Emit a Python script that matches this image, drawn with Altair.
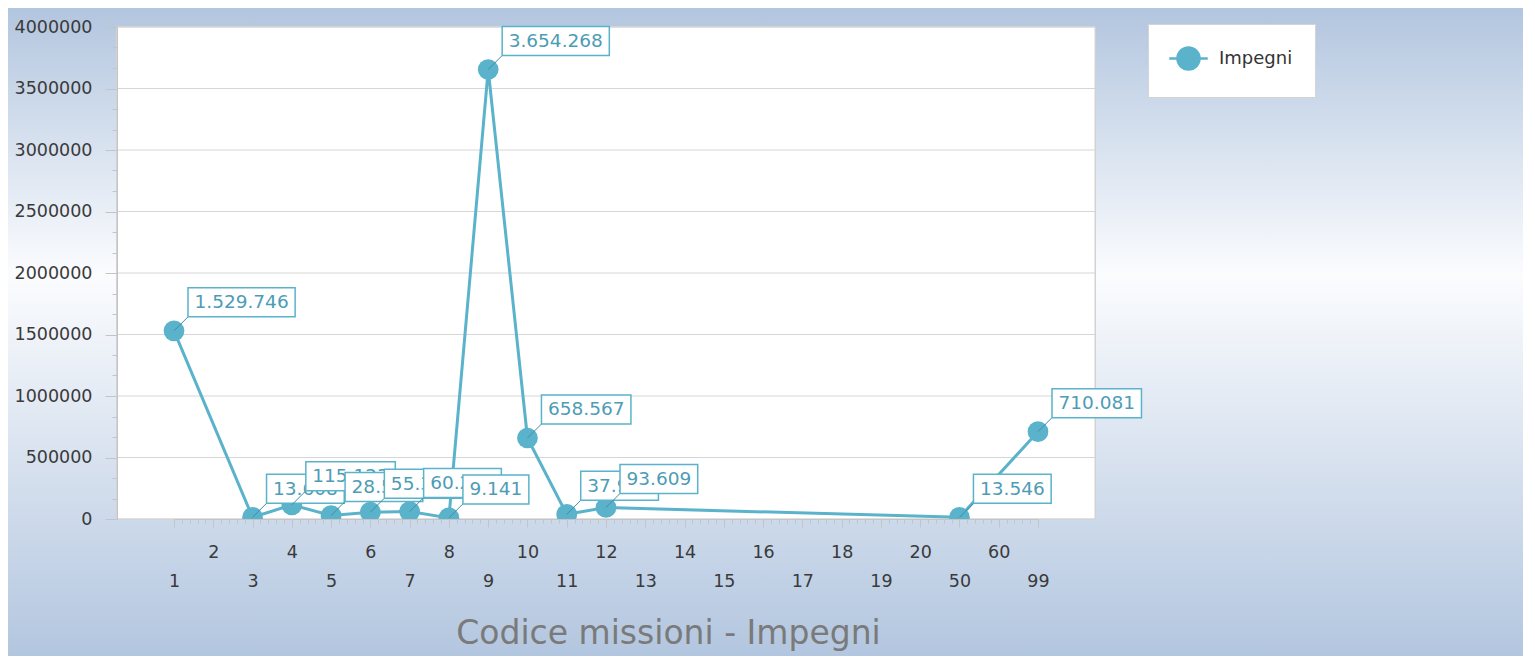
import altair as alt
import pandas as pd

# ---- data ----
categories = [str(i) for i in range(1, 21)] + ["50", "60", "99"]
codes = ["1", "3", "4", "5", "6", "7", "8", "9", "10", "11", "12", "50", "99"]
values = [1529746, 13608, 115123, 28512, 55312, 60213, 9141, 3654268, 658567, 37912, 93609, 13546, 710081]
y_ticks = [0, 500000, 1000000, 1500000, 2000000, 2500000, 3000000, 3500000, 4000000]
bottom_row = ["1", "3", "5", "7", "9", "11", "13", "15", "17", "19", "50", "99"]
series_name = "Impegni"

labels = [f"{v:,}".replace(",", ".") for v in values]
df = pd.DataFrame({"code": codes, "value": values, "label": labels,
                   "series": [series_name] * len(codes), "i": list(range(len(codes)))})
grid_df = pd.DataFrame({"tick": y_ticks})

# minor (ruler) tick positions for axes
minor_x = [k / 5 for k in range(0, 22 * 5 + 1) if k % 5 != 0]
minor_y = [k * 500000 / 3 for k in range(0, 25) if k % 3 != 0]
minor_df = pd.DataFrame({"mx": [0, 22], "my": [0, 4000000]})

W, H = 978, 492
X0, X1 = 57, 921
TEAL = "#5ab3cb"
LABEL_COL = "#4d9cb6"
FONT = "DejaVu Sans"
AX_COL = "#c4c4c4"

xscale = alt.Scale(domain=categories, type="point", padding=0, range=[X0, X1])
yscale = alt.Scale(domain=[0, 4000000], nice=False)

bottom_test = "indexof([" + ",".join(f"'{c}'" for c in bottom_row) + "], datum.value) >= 0"

x_axis = alt.Axis(
    title="Codice missioni - Impegni", titleFontSize=33, titleColor="#7a7a7a",
    titleFont=FONT, titleFontWeight="normal", titleX=551, titleY=114,
    titleBaseline="middle", titleAnchor="middle", titleAlign="center",
    labelFont=FONT, labelFontSize=17.5, labelColor="#3a3a3a", labelAngle=0,
    labelBaseline="middle", labelOverlap=False, labelFlush=False,
    labelPadding=alt.condition(bottom_test, alt.value(54), alt.value(25)),
    tickSize=8, tickColor=AX_COL, domainColor=AX_COL, grid=False, zindex=1,
)
y_axis = alt.Axis(
    title=None, values=y_ticks, format="d", labelFont=FONT, labelFontSize=17.5,
    labelColor="#3a3a3a", tickSize=12, labelPadding=13, tickColor=AX_COL,
    domainColor=AX_COL, grid=False, zindex=1,
)

base = alt.Chart(df)

bg = alt.Chart(grid_df).mark_rect(
    color=alt.Gradient(
        gradient="linear",
        stops=[alt.GradientStop(color="#b0c4de", offset=0),
               alt.GradientStop(color="#fbfcfe", offset=0.41),
               alt.GradientStop(color="#b0c4de", offset=1)],
        x1=0, x2=0, y1=0, y2=1,
    )
).encode(x=alt.value(-117), x2=alt.value(1418), y=alt.value(-27), y2=alt.value(644))

plot_bg = alt.Chart(grid_df).mark_rect(fill="white", stroke="#d2d2d2", strokeWidth=1).encode(
    x=alt.value(0), x2=alt.value(W), y=alt.value(0), y2=alt.value(H)
)

grid = alt.Chart(grid_df).mark_rule(color="#d6d6d6", strokeWidth=1).encode(
    y=alt.Y("tick:Q", scale=yscale, axis=y_axis)
)

line = base.mark_line(color=TEAL, strokeWidth=3, clip=True).encode(
    x=alt.X("code:N", scale=xscale, sort=categories, axis=x_axis),
    y=alt.Y("value:Q", scale=yscale),
    order="i:Q",
)

points = base.mark_point(filled=True, size=430, opacity=1, clip=True).encode(
    x=alt.X("code:N", scale=xscale, sort=categories),
    y=alt.Y("value:Q", scale=yscale),
    color=alt.Color("series:N", scale=alt.Scale(range=[TEAL]),
                    legend=alt.Legend(title=None, orient="none", legendX=1031, legendY=-3,
                                      fillColor="white", strokeColor="#d4d4d4", padding=22,
                                      symbolOffset=6,
                                      symbolType="M-1,0A1,1 0 1,1 1,0A1,1 0 1,1 -1,0Z M-1.75,0L1.75,0",
                                      symbolSize=484, symbolStrokeColor=TEAL, symbolStrokeWidth=2.5,
                                      symbolFillColor=TEAL, labelFont=FONT, labelFontSize=18,
                                      labelColor="#333333", labelOffset=18)),
)

layers = [bg, plot_bg, grid, line, points]

def text_w(s):
    w = 0
    for ch in s:
        w += 0.318 if ch == "." else 0.636
    return w * 18.5

for k, lab in enumerate(labels):
    sub = base.transform_filter(alt.datum.i == k)
    bw = text_w(lab) + 13
    leader = sub.mark_rule(color="#3f8ea6", strokeWidth=1, x2Offset=14, y2Offset=-14).encode(
        x=alt.X("code:N", scale=xscale, sort=categories), x2="code:N",
        y=alt.Y("value:Q", scale=yscale), y2="value:Q",
    )
    box = sub.mark_rect(fill="white", stroke=TEAL, strokeWidth=1.5,
                        xOffset=14, x2Offset=14 + bw, yOffset=-43, y2Offset=-14).encode(
        x=alt.X("code:N", scale=xscale, sort=categories), x2="code:N",
        y=alt.Y("value:Q", scale=yscale), y2="value:Q",
    )
    txt = sub.mark_text(align="left", baseline="middle", dx=20.5, dy=-28.5, font=FONT,
                        fontSize=18.5, color=LABEL_COL).encode(
        x=alt.X("code:N", scale=xscale, sort=categories),
        y=alt.Y("value:Q", scale=yscale), text="label:N",
    )
    layers += [leader, box, txt]

main = alt.layer(*layers)

minor = alt.Chart(minor_df).mark_point(opacity=0).encode(
    x=alt.X("mx:Q", scale=alt.Scale(domain=[0, 22], range=[X0, X1], nice=False, zero=False),
            axis=alt.Axis(orient="bottom", values=minor_x, labels=False, title=None, domain=False,
                          grid=False, tickSize=4, tickColor=AX_COL, zindex=1)),
    y=alt.Y("my:Q", scale=alt.Scale(domain=[0, 4000000], nice=False),
            axis=alt.Axis(orient="left", values=minor_y, labels=False, title=None, domain=False,
                          grid=False, tickSize=5, tickColor=AX_COL, zindex=1)),
)

chart = alt.layer(main, minor).resolve_scale(x="independent", y="independent").resolve_axis(
    x="independent", y="independent"
).properties(
    width=W, height=H,
    autosize=alt.AutoSizeParams(type="none"),
    padding={"left": 109, "top": 19, "right": 428, "bottom": 137},
).configure_view(stroke=None).configure(background="#b0c4de")

chart.save("out.html", embed_options={"renderer": "svg", "actions": False})
